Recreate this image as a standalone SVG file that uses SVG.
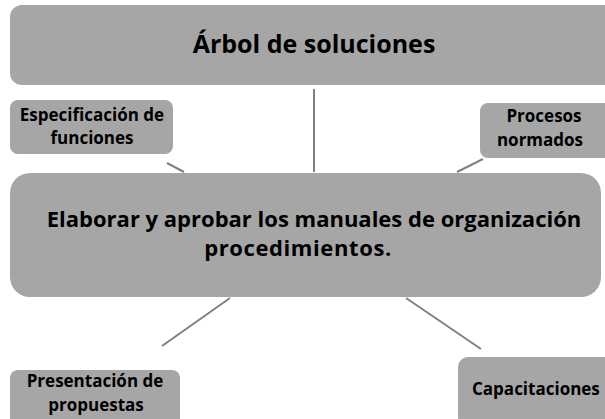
<svg xmlns="http://www.w3.org/2000/svg" width="605" height="419" viewBox="0 0 605 419">
<style>
.box{fill:#a6a6a6;}
.t{font-family:"Open Sans","Liberation Sans",Arial,sans-serif;font-weight:bold;fill:#000;text-anchor:middle;}
.s{font-size:17px;}
.c{stroke:#808080;stroke-width:2;fill:none;}
</style>
<rect width="605" height="419" fill="#fff"/>
<g id="connectors">
<line class="c" x1="314" y1="89" x2="314" y2="172"/>
<line class="c" x1="167" y1="163" x2="184" y2="172"/>
<line class="c" x1="457" y1="172" x2="483" y2="159"/>
<line class="c" x1="230" y1="298" x2="162" y2="346"/>
<line class="c" x1="406" y1="298" x2="481" y2="349"/>
</g>
<g id="titulo">
<rect class="box" x="10" y="5" width="610" height="80" rx="12"/>
<text class="t" x="314" y="53" font-size="25">Árbol de soluciones</text>
</g>
<g id="especificacion">
<rect class="box" x="10" y="100" width="163" height="54" rx="8"/>
<text class="t s" x="92" y="121">Especificación de</text>
<text class="t s" x="92" y="144">funciones</text>
</g>
<g id="procesos">
<rect class="box" x="480" y="103" width="135" height="55" rx="8"/>
<text class="t s" x="544" y="122">Procesos</text>
<text class="t s" x="540" y="146">normados</text>
</g>
<g id="principal">
<rect class="box" x="10" y="173" width="591" height="124" rx="20"/>
<text class="t" x="314" y="227" font-size="22">Elaborar y aprobar los manuales de organización</text>
<text class="t" x="298" y="256" font-size="22" letter-spacing="0.6">procedimientos.</text>
</g>
<g id="presentacion">
<rect class="box" x="10" y="370" width="170" height="60" rx="8"/>
<text class="t s" x="95" y="387">Presentación de</text>
<text class="t s" x="96" y="411">propuestas</text>
</g>
<g id="capacitaciones">
<rect class="box" x="458" y="357" width="160" height="70" rx="10"/>
<text class="t s" x="472" y="395" style="text-anchor:start">Capacitaciones</text>
</g>
</svg>
